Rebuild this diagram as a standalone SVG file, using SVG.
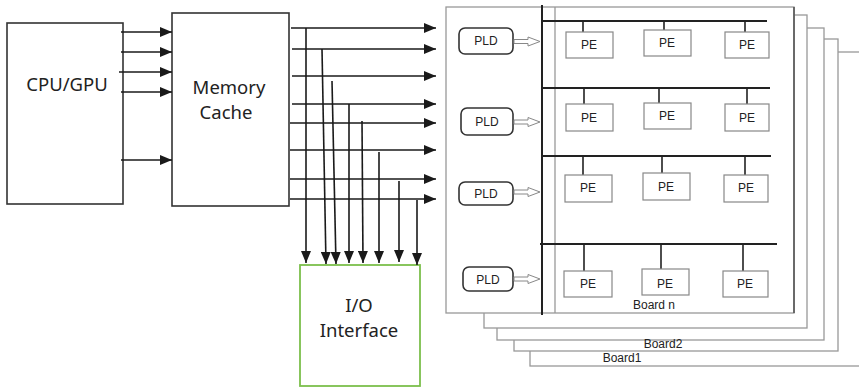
<svg xmlns="http://www.w3.org/2000/svg" width="859" height="388" viewBox="0 0 859 388">
<defs>
<style>
.box{fill:#fff;stroke:#333;stroke-width:1.6}
.io{fill:#fff;stroke:#7cbf4c;stroke-width:1.8}
.big{font-family:"Noto Sans","Open Sans",sans-serif;font-size:18.5px;fill:#222;text-anchor:middle}
.sm{font-family:"Liberation Sans","Noto Sans",sans-serif;font-size:12px;fill:#222;text-anchor:middle}
.lyr{fill:#fff;stroke:#999;stroke-width:1.3}
.pe{fill:#fff;stroke:#888;stroke-width:1.2}
.pld{fill:#fff;stroke:#333;stroke-width:1.6}
.bus{stroke:#222;stroke-width:2;fill:none}
.stub{stroke:#222;stroke-width:1.6;fill:none}
.arr{stroke:#1a1a1a;stroke-width:1.6;fill:none;marker-end:url(#ah)}
.hol{fill:#fff;stroke:#888;stroke-width:1}
</style>
<marker id="ah" markerUnits="userSpaceOnUse" markerWidth="12" markerHeight="10" refX="12" refY="5" orient="auto">
<path d="M0,0 L12,5 L0,10 z" fill="#1a1a1a"/>
</marker>
</defs>

<g id="boards-stack">
<rect class="lyr" x="530" y="52" width="340" height="314"/>
<rect class="lyr" x="514" y="39" width="324" height="312"/>
<rect class="lyr" x="497" y="28" width="327" height="312"/>
<rect class="lyr" x="484" y="15" width="323" height="313"/>
<text class="sm" x="663" y="348">Board2</text>
<text class="sm" x="622" y="362">Board1</text>
</g>

<g id="board-n">
<rect class="lyr" x="446" y="7" width="348" height="306"/>
<line x1="794" y1="7" x2="794" y2="313" stroke="#555" stroke-width="1.6"/>
<line x1="555" y1="7" x2="555" y2="313" stroke="#999" stroke-width="1.3"/>
<text class="sm" x="654" y="309">Board n</text>
</g>

<g id="buses">
<line class="bus" x1="542" y1="5" x2="542" y2="315"/>
<line class="bus" x1="542" y1="21" x2="767" y2="21"/>
<line class="bus" x1="542" y1="88" x2="770" y2="88"/>
<line class="bus" x1="542" y1="156" x2="771" y2="156"/>
<line class="bus" x1="540" y1="244" x2="777" y2="244"/>
<path class="stub" d="M583,21V32 M664,21V30 M745,21V32 M584,88V104 M659,88V103 M747,88V104 M583,156V175 M662,156V173 M745,156V175 M584,244V271 M661,244V269 M743,244V271"/>
</g>

<g id="pe-row1">
<rect class="pe" x="566" y="32" width="47" height="26"/><text class="sm" x="589" y="49">PE</text>
<rect class="pe" x="644" y="30" width="47" height="26"/><text class="sm" x="667" y="47">PE</text>
<rect class="pe" x="725" y="32" width="44" height="26"/><text class="sm" x="747" y="49">PE</text>
</g>
<g id="pe-row2">
<rect class="pe" x="566" y="104" width="47" height="27"/><text class="sm" x="589" y="122">PE</text>
<rect class="pe" x="644" y="103" width="47" height="26"/><text class="sm" x="667" y="120">PE</text>
<rect class="pe" x="725" y="104" width="44" height="27"/><text class="sm" x="747" y="122">PE</text>
</g>
<g id="pe-row3">
<rect class="pe" x="565" y="175" width="47" height="27"/><text class="sm" x="588" y="192">PE</text>
<rect class="pe" x="643" y="173" width="47" height="27"/><text class="sm" x="666" y="191">PE</text>
<rect class="pe" x="724" y="175" width="44" height="27"/><text class="sm" x="746" y="192">PE</text>
</g>
<g id="pe-row4">
<rect class="pe" x="564" y="271" width="48" height="26"/><text class="sm" x="588" y="288">PE</text>
<rect class="pe" x="642" y="269" width="47" height="26"/><text class="sm" x="665" y="288">PE</text>
<rect class="pe" x="723" y="271" width="45" height="26"/><text class="sm" x="745" y="288">PE</text>
</g>

<g id="pld1"><rect class="pld" x="459" y="28" width="54" height="26" rx="6"/><text class="sm" x="486" y="45">PLD</text>
<path class="hol" d="M514,39.5H528V37L540,41.5L528,46V43.5H514z"/></g>
<g id="pld2"><rect class="pld" x="461" y="108" width="52" height="27" rx="6"/><text class="sm" x="487" y="126">PLD</text>
<path class="hol" d="M514,120H528V117.5L540,122L528,126.5V124H514z"/></g>
<g id="pld3"><rect class="pld" x="459" y="182" width="54" height="23" rx="6"/><text class="sm" x="486" y="198">PLD</text>
<path class="hol" d="M514,190H528V187.5L540,192L528,196.5V194H514z"/></g>
<g id="pld4"><rect class="pld" x="463" y="267" width="50" height="24" rx="6"/><text class="sm" x="488" y="284">PLD</text>
<path class="hol" d="M514,277H528V274.5L540,279L528,283.5V281H514z"/></g>

<g id="cpu">
<rect class="box" x="7" y="23" width="116" height="181"/>
<text class="big" x="67" y="91">CPU/GPU</text>
</g>
<g id="memory-cache">
<rect class="box" x="172" y="13" width="117" height="193"/>
<text class="big" x="229" y="94">Memory</text>
<text class="big" x="226" y="119">Cache</text>
</g>
<g id="io-interface">
<rect class="io" x="300" y="265" width="120" height="121"/>
<text class="big" x="359" y="312">I/O</text>
<text class="big" x="359" y="337">Interface</text>
</g>

<g id="connectors">
<line class="arr" x1="121" y1="32" x2="172" y2="32"/>
<line class="arr" x1="121" y1="52" x2="172" y2="52"/>
<line class="arr" x1="119" y1="72" x2="172" y2="72"/>
<line class="arr" x1="121" y1="92" x2="172" y2="92"/>
<line class="arr" x1="121" y1="160" x2="172" y2="160"/>
<line class="arr" x1="291" y1="28" x2="436" y2="28"/>
<line class="arr" x1="292" y1="49" x2="436" y2="49"/>
<line class="arr" x1="292" y1="76" x2="436" y2="76"/>
<line class="arr" x1="292" y1="104" x2="436" y2="104"/>
<line class="arr" x1="290" y1="123" x2="436" y2="123"/>
<line class="arr" x1="290" y1="150" x2="436" y2="150"/>
<line class="arr" x1="290" y1="179" x2="436" y2="179"/>
<line class="arr" x1="290" y1="199" x2="436" y2="199"/>
<line class="arr" x1="306" y1="28" x2="306" y2="263"/>
<line class="arr" x1="322" y1="49" x2="326" y2="264"/>
<line class="arr" x1="332" y1="81" x2="336" y2="264"/>
<line class="arr" x1="349" y1="104" x2="349" y2="263"/>
<line class="arr" x1="362" y1="121" x2="363" y2="263"/>
<line class="arr" x1="379" y1="152" x2="379" y2="263"/>
<line class="arr" x1="399" y1="181" x2="399" y2="262"/>
<line class="arr" x1="417" y1="200" x2="417" y2="265"/>
</g>
</svg>
